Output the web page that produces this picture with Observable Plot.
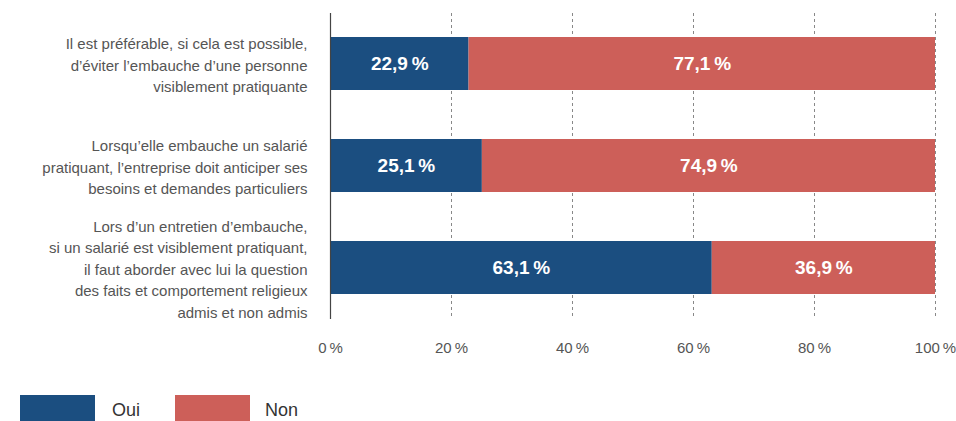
<!DOCTYPE html>
<html>
<head>
<meta charset="utf-8">
<script src="https://cdn.jsdelivr.net/npm/d3@7"></script>
<script src="https://cdn.jsdelivr.net/npm/@observablehq/plot@0.6"></script>
<style>
  html, body { margin: 0; padding: 0; background: #fff; overflow: hidden; }
  body { width: 956px; height: 421px; font-family: "Liberation Sans Narrow", "Liberation Sans", sans-serif; }
  #legend { position: relative; height: 61px; }
  .sw { position: absolute; top: 35px; width: 75px; height: 26px; }
  .lb { position: absolute; top: 40px; font-size: 18px; line-height: 20px; color: #333; }
</style>
</head>
<body>
<div id="chart"></div>
<div id="legend"></div>
<script>
const questions = [
  "Il est préférable, si cela est possible,\nd’éviter l’embauche d’une personne\nvisiblement pratiquante",
  "Lorsqu’elle embauche un salarié\npratiquant, l’entreprise doit anticiper ses\nbesoins et demandes particuliers",
  "Lors d’un entretien d’embauche,\nsi un salarié est visiblement pratiquant,\nil faut aborder avec lui la question\ndes faits et comportement religieux\nadmis et non admis"
];
const responses = ["Oui", "Non"];
const oui = [22.9, 25.1, 63.1];
const non = [77.1, 74.9, 36.9];
const colors = ["#1b4e80", "#cd5f59"];
const xTicks = [0, 20, 40, 60, 80, 100];

const data = [];
questions.forEach((q, i) => {
  data.push({question: q, response: "Oui", value: oui[i]});
  data.push({question: q, response: "Non", value: non[i]});
});
const fr = v => v.toFixed(1).replace(".", ",") + "\u202f%";

const font = "'Liberation Sans Narrow', 'Liberation Sans', sans-serif";
const chart = Plot.plot({
  width: 956,
  height: 360,
  marginLeft: 330,
  marginRight: 21,
  marginTop: 13,
  marginBottom: 41,
  style: {fontFamily: font, fontSize: "15px", color: "#555", background: "#fff"},
  x: {domain: [0, 100], ticks: xTicks, tickFormat: d => d + "\u202f%"},
  y: {domain: questions, paddingInner: 0.48, paddingOuter: 0.24},
  color: {domain: responses, range: colors},
  marks: [
    Plot.ruleX(xTicks.filter(d => d > 0), {stroke: "#888", strokeDasharray: "3,3", strokeWidth: 1}),
    Plot.barX(data, Plot.stackX({x: "value", y: "question", fill: "response", order: responses})),
    Plot.text(data, Plot.stackX({x: "value", y: "question", z: "response", order: responses,
      text: d => fr(d.value), fill: "white", fontWeight: "bold", fontSize: 19})),
    Plot.ruleX([0], {stroke: "#444", strokeWidth: 1.2}),
    Plot.axisX({ticks: xTicks, tickFormat: d => d + "\u202f%", tickSize: 0, tickPadding: 23, label: null, fontSize: 15, fill: "#555"}),
    Plot.axisY({tickSize: 0, tickPadding: 23, label: null, lineHeight: 1.43, fontSize: 15, fill: "#555"})
  ]
});
document.getElementById("chart").appendChild(chart);

const legend = document.getElementById("legend");
const pos = [{sx: 20, tx: 112}, {sx: 175, tx: 265}];
responses.forEach((r, i) => {
  const sw = document.createElement("div");
  sw.className = "sw"; sw.style.left = pos[i].sx + "px"; sw.style.background = colors[i];
  const lb = document.createElement("div");
  lb.className = "lb"; lb.style.left = pos[i].tx + "px"; lb.textContent = r;
  legend.appendChild(sw); legend.appendChild(lb);
});
</script>
</body>
</html>
